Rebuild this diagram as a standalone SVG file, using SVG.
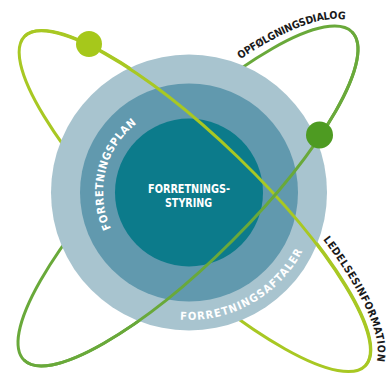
<svg xmlns="http://www.w3.org/2000/svg" width="392" height="374" viewBox="0 0 392 374">
<style>
.orb1{fill:none;stroke:#a8c823;stroke-width:3}
.orb2{fill:none;stroke:#69a93a;stroke-width:3}
.lbl{font-family:"DejaVu Sans Condensed","DejaVu Sans",sans-serif;font-weight:bold;font-size:11px}
.sm{font-size:10.5px}
.w{fill:#ffffff}
.k{fill:#1a1a1a}
</style>
<defs>
<path id="p1" d="M240.3,59.2 A240,72 -45 0 1 345.8,19.9"/>
<path id="p2" d="M323.0,239.5 A245,70 44 0 1 376.6,361.8"/>
<path id="p3" d="M111.1,228.3 A86,86 0 0 1 138.5,122.4"/>
<path id="p4" d="M180.1,319.7 A128,128 0 0 0 303.1,250.1"/>
</defs>
<g id="connectors">
<ellipse class="orb1" cx="195" cy="201" rx="237" ry="62" transform="rotate(44 195 201)"/>
<ellipse class="orb2" cx="188" cy="196" rx="232" ry="63" transform="rotate(-45 188 196)"/>
</g>
<g id="rings">
<circle cx="189" cy="192.5" r="138" fill="#a8c4cf"/>
<circle cx="189" cy="192.5" r="109" fill="#6199ae"/>
<circle cx="189" cy="192.5" r="74" fill="#0c7b8b"/>
</g>
<g id="connectors-front">
<path class="orb1" d="M24.5,36.4 A237,62 44 0 1 365.5,365.6"/>
<path class="orb2" d="M352.05,31.95 A232,63 -45 0 1 23.95,360.05"/>
</g>
<g id="dot1"><circle cx="89" cy="44" r="13" fill="#a6c81b"/></g>
<g id="dot2"><circle cx="319.5" cy="135" r="13.5" fill="#4e9b22"/></g>
<g id="center">
<text class="lbl w" x="189" y="193" text-anchor="middle" style="font-size:11.5px" textLength="82" lengthAdjust="spacingAndGlyphs">FORRETNINGS-</text>
<text class="lbl w" x="188.5" y="206.5" text-anchor="middle" style="font-size:11.5px" textLength="47" lengthAdjust="spacingAndGlyphs">STYRING</text>
</g>
<g id="forretningsplan">
<text class="lbl w"><textPath href="#p3" textLength="116" lengthAdjust="spacing">FORRETNINGSPLAN</textPath></text>
</g>
<g id="forretningsaftaler">
<text class="lbl w"><textPath href="#p4" textLength="148" lengthAdjust="spacing">FORRETNINGSAFTALER</textPath></text>
</g>
<g id="opfolgningsdialog">
<text class="lbl k sm"><textPath href="#p1" textLength="114" lengthAdjust="spacing">OPFØLGNINGSDIALOG</textPath></text>
</g>
<g id="ledelsesinformation">
<text class="lbl k sm"><textPath href="#p2" textLength="136" lengthAdjust="spacing">LEDELSESINFORMATION</textPath></text>
</g>
</svg>
